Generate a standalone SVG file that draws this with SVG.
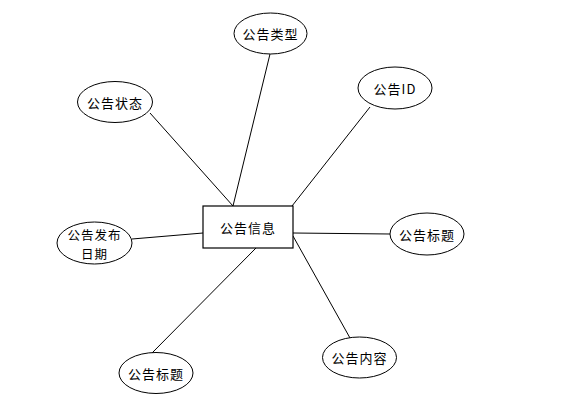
<svg xmlns="http://www.w3.org/2000/svg" width="570" height="400" viewBox="0 0 570 400">
<style>
.e{fill:#fff;stroke:#000;stroke-width:1}
.r{fill:#fff;stroke:#000;stroke-width:1.2}
.c line{stroke:#000;stroke-width:1}
text{font-family:"Noto Sans CJK SC","Noto Sans",sans-serif;font-size:13px;fill:#000;text-anchor:middle;dominant-baseline:central;letter-spacing:1px}
</style>
<rect width="570" height="400" fill="#fff"/>
<g class="c" id="connectors">
<line x1="270" y1="54" x2="233" y2="206"/>
<line x1="370" y1="107" x2="292" y2="206"/>
<line x1="150" y1="113" x2="233" y2="206"/>
<line x1="132" y1="239" x2="203" y2="233"/>
<line x1="293" y1="233" x2="390" y2="234"/>
<line x1="293" y1="236" x2="350" y2="338"/>
<line x1="256" y1="248" x2="152" y2="353"/>
</g>
<g id="n-main"><rect class="r" x="203" y="206" width="90" height="42"/><text x="248" y="227">公告信息</text></g>
<g id="n-type"><ellipse class="e" cx="270.5" cy="33.5" rx="36.5" ry="20.5"/><text x="270.5" y="33.5">公告类型</text></g>
<g id="n-id"><ellipse class="e" cx="395" cy="88" rx="37" ry="21"/><text x="395" y="88">公告ID</text></g>
<g id="n-status"><ellipse class="e" cx="115" cy="102" rx="37.5" ry="20.5"/><text x="115" y="102">公告状态</text></g>
<g id="n-date"><ellipse class="e" cx="94.5" cy="243" rx="37.5" ry="21"/><text x="94.5" y="234" style="font-size:12.5px">公告发布</text><text x="94.5" y="253" style="font-size:12.5px">日期</text></g>
<g id="n-title1"><ellipse class="e" cx="427" cy="234" rx="37" ry="21"/><text x="427" y="234">公告标题</text></g>
<g id="n-content"><ellipse class="e" cx="359.5" cy="357.5" rx="37" ry="20.5"/><text x="359.5" y="357.5">公告内容</text></g>
<g id="n-title2"><ellipse class="e" cx="156" cy="373" rx="37" ry="20.5"/><text x="156" y="373">公告标题</text></g>
</svg>
